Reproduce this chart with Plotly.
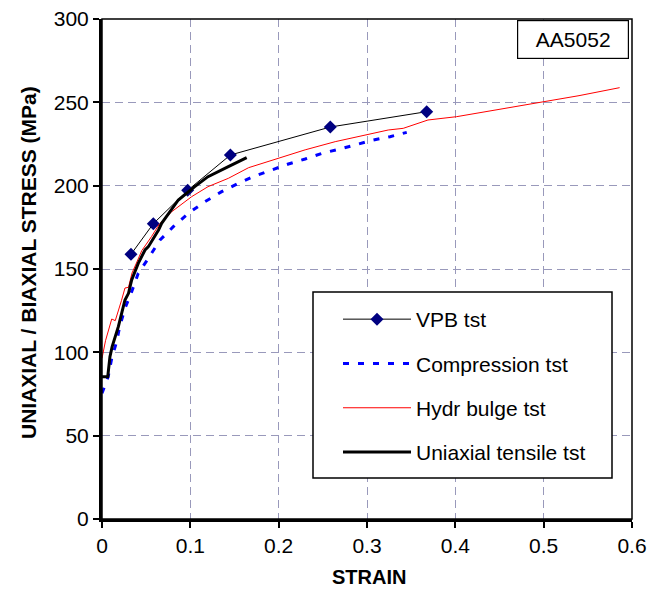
import plotly.graph_objects as go

# VPB test
vpb_x = [0.0328, 0.0581, 0.097, 0.1453, 0.2585, 0.3676]
vpb_y = [158.8, 177.2, 197.2, 218.4, 235.2, 244.4]

# Compression test
comp_x = [0.0, 0.007, 0.011, 0.0166, 0.020, 0.026, 0.0336, 0.041, 0.0525, 0.0657, 0.0807,
          0.0977, 0.1166, 0.1355, 0.1543, 0.173, 0.192, 0.211, 0.230, 0.249, 0.2695,
          0.288, 0.307, 0.326, 0.345]
comp_y = [75.4, 85.4, 96.4, 106.4, 115.4, 126.4, 136.4, 147.4, 156.4, 167.4, 175.4,
          183.4, 190.4, 196.4, 201.4, 205.8, 209.4, 213.0, 216.0, 219.4, 222.0,
          224.8, 227.4, 229.4, 232.0]

# Hydraulic bulge test
bulge_x = [0.0, 0.004, 0.011, 0.015, 0.022, 0.026, 0.030, 0.034, 0.039, 0.045, 0.056,
           0.065, 0.079, 0.090, 0.1015, 0.12, 0.143, 0.166, 0.20, 0.23, 0.264, 0.295,
           0.324, 0.341, 0.369, 0.4015, 0.445, 0.4996, 0.54, 0.586]
bulge_y = [96.4, 107.0, 120.0, 119.0, 131.0, 138.6, 139.0, 147.6, 153.6, 161.0, 169.4,
           177.0, 184.4, 189.0, 193.4, 199.4, 204.4, 210.8, 216.4, 221.5, 226.4, 230.0,
           233.4, 234.4, 239.4, 241.4, 245.4, 250.4, 254.0, 258.8]

# Uniaxial tensile test
uni_x = [0.0, 0.0065, 0.009, 0.0115, 0.0185, 0.026, 0.030, 0.0336, 0.041, 0.0487, 0.0525,
         0.064, 0.0675, 0.0864, 0.105, 0.12, 0.143, 0.1638]
uni_y = [85.4, 85.4, 97.4, 103.4, 115.4, 131.4, 135.4, 143.4, 153.4, 161.4, 163.4,
         173.4, 177.4, 191.4, 199.4, 205.4, 211.4, 216.8]

x_ticks = [0, 0.1, 0.2, 0.3, 0.4, 0.5, 0.6]
x_tick_labels = ["0", "0.1", "0.2", "0.3", "0.4", "0.5", "0.6"]
y_ticks = [0, 50, 100, 150, 200, 250, 300]

FONT = "Liberation Sans, Arial, sans-serif"

# page has an 8px body margin; target plot area in window: x 102..632, y 19..519
OFF = 8
W, H = 661 - OFF, 590 - OFF
L, T = 102 - OFF, 19 - OFF
PW, PH = 530, 500
R = W - L - PW
B = H - T - PH


def px(xp):
    return (xp - OFF - L) / PW


def py(yp):
    return (T + PH - (yp - OFF)) / PH


fig = go.Figure()
fig.add_trace(go.Scatter(x=vpb_x, y=vpb_y, mode="lines+markers", name="VPB tst",
                         legendgroup="a",
                         line=dict(color="black", width=1),
                         marker=dict(symbol="diamond", size=10, color="#000080")))
fig.add_trace(go.Scatter(x=comp_x, y=comp_y, mode="lines", name="Compression tst",
                         legendgroup="b",
                         line=dict(color="#0000FF", width=3, dash="6px,9px")))
fig.add_trace(go.Scatter(x=bulge_x, y=bulge_y, mode="lines", name="Hydr bulge tst",
                         legendgroup="c",
                         line=dict(color="#FF0000", width=1)))
fig.add_trace(go.Scatter(x=uni_x, y=uni_y, mode="lines", name="Uniaxial tensile tst",
                         legendgroup="d",
                         line=dict(color="black", width=3)))

grid = dict(showgrid=True, gridcolor="#9999BB", gridwidth=1.2, griddash="8px,5px")

fig.update_xaxes(range=[0, 0.6], tickvals=x_ticks, ticktext=x_tick_labels,
                 ticks="outside", ticklen=6, tickwidth=2, tickcolor="black",
                 showline=True, linecolor="black", linewidth=3, zeroline=False,
                 tickfont=dict(family=FONT, size=21, color="black"),
                 ticklabeloverflow="allow",
                 automargin=False, **grid)
fig.update_yaxes(range=[0, 300], tickvals=y_ticks,
                 ticks="outside", ticklen=6, tickwidth=2, tickcolor="black",
                 showline=True, linecolor="black", linewidth=3, zeroline=False,
                 tickfont=dict(family=FONT, size=21, color="black"),
                 ticklabeloverflow="allow",
                 automargin=False, **grid)

# axis titles
fig.add_annotation(xref="paper", yref="paper", x=px(369), y=py(577),
                   xanchor="center", yanchor="middle",
                   text="<b>STRAIN</b>", showarrow=False,
                   font=dict(family=FONT, size=20, color="black"))
fig.add_annotation(xref="paper", yref="paper", x=px(28), y=py(263),
                   xanchor="center", yanchor="middle",
                   text="<b>UNIAXIAL / BIAXIAL STRESS (MPa)</b>", showarrow=False,
                   textangle=-90, font=dict(family=FONT, size=21, color="black"))

# outer frame (thin top/right)
fig.add_shape(type="rect", xref="paper", yref="paper", x0=0, y0=0, x1=1, y1=1,
              line=dict(color="black", width=1.5), layer="above")
# legend box
fig.add_shape(type="rect", xref="paper", yref="paper",
              x0=px(313), x1=px(612), y0=py(478), y1=py(292),
              line=dict(color="black", width=1.5), fillcolor="white", layer="above")

fig.add_annotation(xref="paper", yref="paper", x=px(573), y=py(39),
                   xanchor="center", yanchor="middle",
                   text="AA5052", showarrow=False,
                   font=dict(family=FONT, size=21, color="black"),
                   bordercolor="black", borderwidth=1.2, borderpad=5, bgcolor="white",
                   width=100, height=27)

fig.update_layout(
    width=W, height=H,
    margin=dict(l=L, r=R, t=T, b=B),
    paper_bgcolor="white", plot_bgcolor="white",
    showlegend=True,
    legend=dict(x=px(338), y=py(299), xanchor="left", yanchor="top",
                bgcolor="rgba(0,0,0,0)", borderwidth=0,
                font=dict(family=FONT, size=21, color="black"),
                itemwidth=68, tracegroupgap=14),
)

fig.write_html("out.html")
